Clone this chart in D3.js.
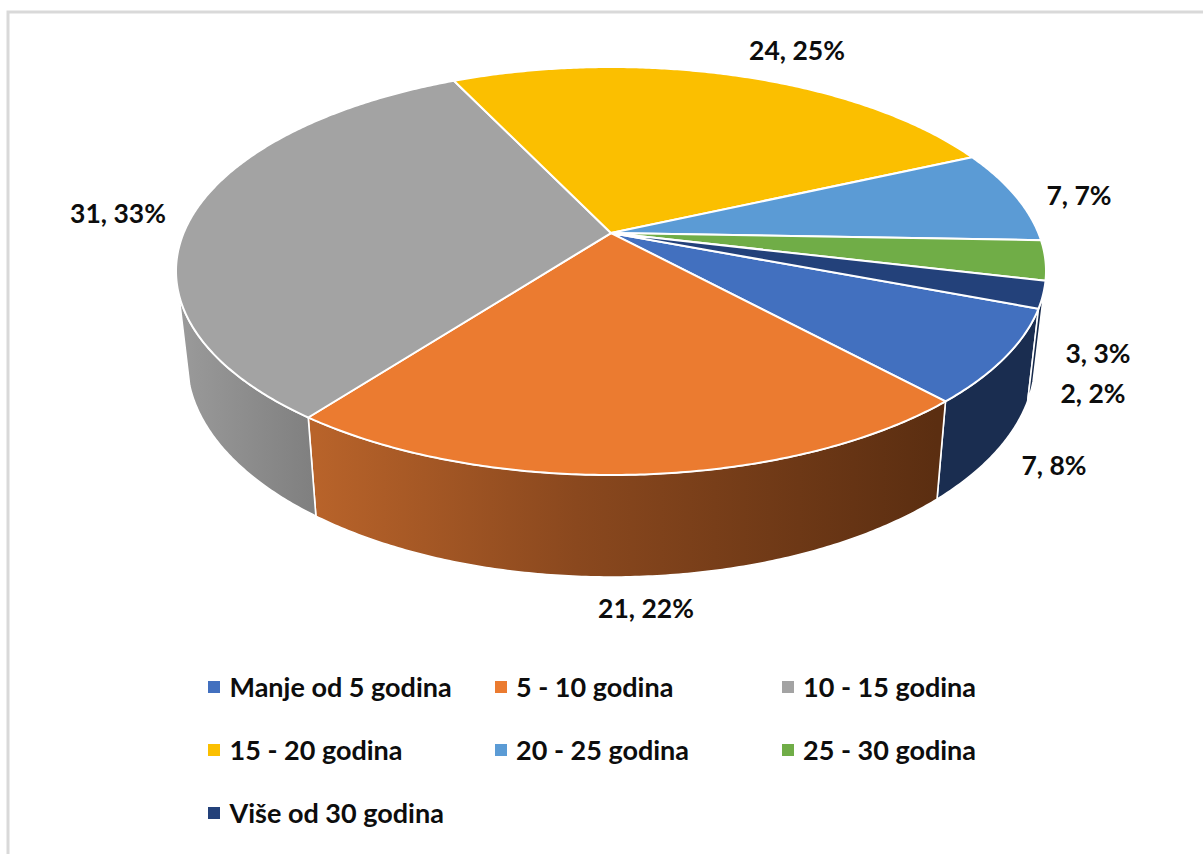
<!DOCTYPE html>
<html><head><meta charset="utf-8">
<script src="https://cdn.jsdelivr.net/npm/d3@7"></script>
<style>html,body{margin:0;padding:0;background:#fff}svg{display:block}text{font-family:Lato,"Open Sans",sans-serif;font-weight:700;fill:#0d0d0d}</style>
</head><body>
<svg id="c" width="1203" height="854"></svg>
<script>
const categories = ["Manje od 5 godina","5 - 10 godina","10 - 15 godina","15 - 20 godina","20 - 25 godina","25 - 30 godina","Više od 30 godina"];
const values = [7,21,31,24,7,3,2];
const percents = ["8%","22%","33%","25%","7%","3%","2%"];
const colors = ["#4270BF","#EB7B30","#A3A3A3","#FBBF00","#5B9BD5","#70AD47","#23417A"];
const sideStops = [
  [["#1A2D50",0],["#1A2D50",1]],
  [["#B8632A",0],["#8A481E",0.42],["#5B2E11",1]],
  [["#9A9A9A",0],["#7F7F7F",1]],
  null,null,null,
  [["#16294A",0],["#16294A",1]]
];
const labelCenters = [[1054,465],[646,608],[118,213],[797,50],[1079,195],[1098,353],[1093,393]];

const svg = d3.select("#c");
const deg = Math.PI/180;
const topEllipse = {cx:611, cy:271, rx:435, ry:204};
const botEllipse = {cx:611, cy:361, rx:424, ry:216};
const k = -0.186;
function project(e, a, r=1){
  const u = r*Math.sin(a), v = -r*Math.cos(a);
  const w = 1 + k*v;
  return [e.cx + e.rx*u*Math.sqrt(1-k*k)/w, e.cy + e.ry*(v+k)/w];
}
const pie = d3.pie().sort(null).startAngle(111*deg).endAngle(471*deg);
const arcs = pie(values);
const line = d3.line();
const samples = (a0,a1) => { const n = Math.max(2,Math.ceil((a1-a0)/(0.5*deg))); return d3.range(n+1).map(i=>a0+(a1-a0)*i/n); };

svg.append("path").attr("d","M8 854V12H1203").attr("fill","none").attr("stroke","#d9d9d9").attr("stroke-width",3);

const defs = svg.append("defs");
sideStops.forEach((st,i)=>{
  if(!st) return;
  const g = defs.append("linearGradient").attr("id","g"+i).attr("gradientUnits","userSpaceOnUse");
  const xs = i===1?[316,937]:i===2?[180,316]:[930,1045];
  g.attr("x1",xs[0]).attr("x2",xs[1]).attr("y1",0).attr("y2",0);
  st.forEach(s=>g.append("stop").attr("offset",s[1]).attr("stop-color",s[0]));
});

// visible wall range (pie angles)
const wallFrom = 106*deg, wallTo = 253*deg;
const sides = svg.append("g");
arcs.forEach((d,i)=>{
  if(!sideStops[i]) return;
  let a0 = d.startAngle, a1 = d.endAngle;
  const shift = a1 > 2*Math.PI ? 2*Math.PI : 0;
  a0 -= shift; a1 -= shift;
  a0 = Math.max(a0,wallFrom); a1 = Math.min(a1,wallTo);
  if(a1<=a0) return;
  const s = samples(a0,a1);
  const pts = s.map(a=>project(topEllipse,a)).concat(s.slice().reverse().map(a=>project(botEllipse,a)));
  sides.append("path").attr("d",line(pts)+"Z").attr("fill",`url(#g${i})`).attr("stroke","#fff").attr("stroke-width",1.6).attr("stroke-linejoin","round");
});

const faces = svg.append("g");
arcs.forEach((d,i)=>{
  const pts = [project(topEllipse,0,0)].concat(samples(d.startAngle,d.endAngle).map(a=>project(topEllipse,a)));
  faces.append("path").attr("d",line(pts)+"Z").attr("fill",colors[i]).attr("stroke","#fff").attr("stroke-width",2).attr("stroke-linejoin","round");
});

svg.append("g").selectAll("text").data(arcs).join("text")
  .attr("x",(d,i)=>labelCenters[i][0]).attr("y",(d,i)=>labelCenters[i][1])
  .attr("text-anchor","middle").attr("dominant-baseline","central")
  .attr("font-size",26.5)
  .text((d,i)=>`${values[i]}, ${percents[i]}`);

const col = d3.scalePoint().domain([0,1,2]).range([208,782]);
const row = d3.scalePoint().domain([0,1,2]).range([687,813]);
const leg = svg.append("g").selectAll("g").data(categories).join("g")
  .attr("transform",(d,i)=>`translate(${col(i%3)},${row(Math.floor(i/3))})`);
leg.append("rect").attr("x",0).attr("y",-6).attr("width",12).attr("height",12).attr("fill",(d,i)=>colors[i]);
leg.append("text").attr("x",(d,i)=>i%3===0?21.5:21).attr("y",-1).attr("dominant-baseline","central").attr("font-size",27).text(d=>d);
</script>
</body></html>
